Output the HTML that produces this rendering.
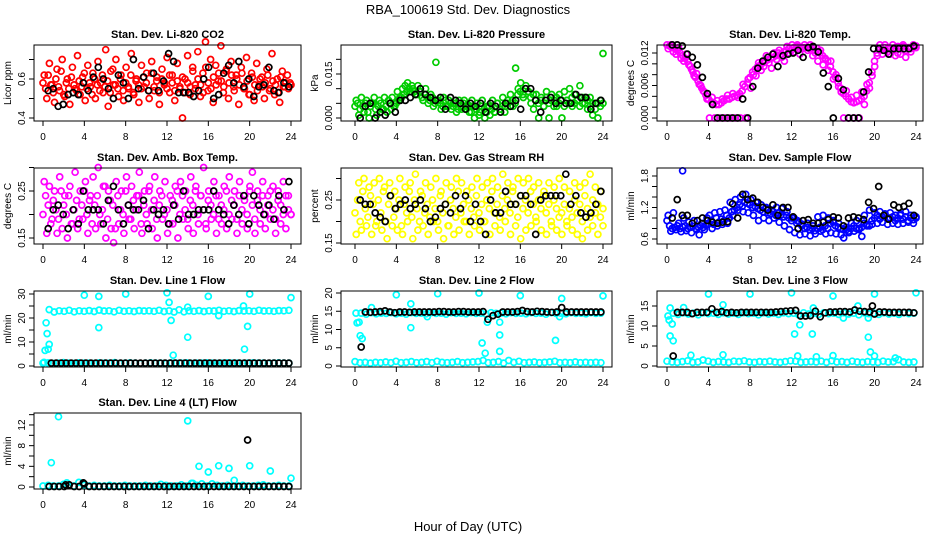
<!DOCTYPE html>
<html><head><meta charset="utf-8"><style>
html,body{margin:0;padding:0;background:#fff;}
svg{display:block;font-family:"Liberation Sans",sans-serif;}
</style></head><body>
<svg id="c" width="936" height="540" viewBox="0 0 936 540">
<text x="468" y="14" text-anchor="middle" font-size="13">RBA_100619  Std. Dev. Diagnostics</text>
<text x="468" y="531" text-anchor="middle" font-size="13">Hour of Day (UTC)</text>
</svg>
<script>
// ---------- data ----------
const hourTicks = [0,4,8,12,16,20,24];

const co2A = [0.58,0.55,0.62,0.57,0.53,0.60,0.56,0.64,0.52,0.58,0.55,0.61,0.57,0.54,0.59,0.56,0.63,0.55,0.58,0.52,0.60,0.57,0.54,0.62,0.56,0.59,0.53,0.65,0.57,0.55,0.60,0.54,0.58,0.56,0.62,0.53,0.59,0.57,0.55,0.61,0.58,0.54,0.63,0.56,0.59,0.53,0.60,0.57,0.55,0.62,0.58,0.54,0.59,0.56,0.61,0.53,0.58,0.56,0.64,0.55,0.60,0.57,0.53,0.66,0.58,0.55,0.61,0.57,0.63,0.59,0.56,0.65,0.58,0.62,0.54,0.60,0.57,0.63,0.55,0.59,0.52,0.61,0.57,0.54,0.60,0.56,0.58,0.62,0.55,0.59,0.57,0.53,0.61,0.56,0.58,0.55,0.57];
const co2B = [0.62,0.50,0.68,0.57,0.48,0.65,0.54,0.70,0.51,0.60,0.47,0.66,0.55,0.72,0.52,0.61,0.49,0.67,0.56,0.63,0.50,0.69,0.58,0.53,0.75,0.46,0.64,0.57,0.70,0.51,0.62,0.49,0.66,0.55,0.73,0.52,0.60,0.48,0.67,0.56,0.63,0.50,0.69,0.54,0.61,0.47,0.65,0.58,0.71,0.53,0.62,0.49,0.68,0.55,0.40,0.60,0.72,0.52,0.66,0.57,0.74,0.51,0.63,0.79,0.54,0.70,0.48,0.67,0.59,0.77,0.53,0.64,0.50,0.69,0.56,0.62,0.47,0.66,0.55,0.71,0.52,0.63,0.49,0.68,0.57,0.61,0.50,0.65,0.54,0.73,0.52,0.60,0.48,0.64,0.56,0.62,0.58];
const co2K = [0.54,0.55,0.46,0.47,0.52,0.53,0.52,0.58,0.54,0.61,0.66,0.60,0.55,0.50,0.62,0.58,0.50,0.70,0.55,0.61,0.54,0.63,0.54,0.59,0.73,0.69,0.53,0.53,0.53,0.51,0.54,0.60,0.66,0.50,0.52,0.63,0.67,0.58,0.69,0.56,0.60,0.51,0.56,0.57,0.66,0.54,0.53,0.58,0.56];

const presA = [0.004,0.005,0.003,0.004,0.005,0.002,0.004,0.005,0.003,0.004,0.005,0.003,0.004,0.006,0.003,0.004,0.005,0.006,0.007,0.008,0.009,0.010,0.011,0.009,0.008,0.009,0.007,0.008,0.007,0.006,0.007,0.005,0.006,0.005,0.004,0.006,0.004,0.005,0.004,0.005,0.003,0.004,0.005,0.003,0.004,0.002,0.004,0.003,0.001,0.004,0.003,0.002,0.004,0.003,0.002,0.005,0.003,0.004,0.002,0.005,0.004,0.006,0.005,0.008,0.009,0.008,0.010,0.009,0.007,0.008,0.006,0.005,0.006,0.004,0.007,0.005,0.006,0.004,0.007,0.005,0.006,0.004,0.006,0.005,0.007,0.005,0.006,0.004,0.007,0.005,0.006,0.004,0.005,0.003,0.005,0.004,0.005];
const presB = [0.006,0.001,0.007,0.002,0.006,0.000,0.005,0.007,0.001,0.006,0.003,0.007,0.002,0.005,0.007,0.004,0.009,0.007,0.010,0.011,0.012,0.009,0.010,0.008,0.011,0.009,0.006,0.010,0.005,0.008,0.004,0.019,0.006,0.003,0.007,0.004,0.006,0.003,0.005,0.002,0.006,0.003,0.006,0.004,0.002,0.006,0.000,0.005,0.002,0.006,0.000,0.004,0.001,0.006,0.002,0.005,0.003,0.007,0.004,0.006,0.008,0.004,0.017,0.010,0.012,0.007,0.011,0.009,0.005,0.003,0.008,0.000,0.007,0.004,0.009,0.000,0.008,0.006,0.004,0.008,0.000,0.009,0.006,0.010,0.004,0.008,0.006,0.011,0.005,0.007,0.003,0.007,0.001,0.005,0.000,0.006,0.022];
const presK = [0.000,0.004,0.005,0.000,0.002,0.001,0.005,0.002,0.006,0.006,0.007,0.008,0.010,0.008,0.007,0.006,0.007,0.003,0.007,0.006,0.005,0.003,0.005,0.004,0.005,0.002,0.005,0.004,0.002,0.005,0.004,0.006,0.003,0.010,0.010,0.006,0.002,0.006,0.007,0.005,0.006,0.005,0.005,0.008,0.007,0.007,0.003,0.005,0.006];

const tempA = [0.0135,0.0133,0.013,0.0128,0.0125,0.012,0.0115,0.011,0.0105,0.0095,0.0085,0.0075,0.0068,0.006,0.005,0.0042,0.0035,0.003,0.0028,0.0025,0.0025,0.0028,0.0032,0.0035,0.0035,0.0038,0.004,0.0042,0.0045,0.005,0.0058,0.0065,0.0075,0.0085,0.009,0.0095,0.0098,0.0102,0.0105,0.0108,0.011,0.0112,0.0115,0.012,0.0118,0.0122,0.0125,0.0128,0.0125,0.013,0.0132,0.0128,0.013,0.0135,0.013,0.0128,0.0132,0.0125,0.0128,0.012,0.0115,0.011,0.0105,0.0095,0.0085,0.0075,0.0065,0.0055,0.0045,0.004,0.0035,0.003,0.0028,0.003,0.0032,0.0035,0.004,0.005,0.0065,0.0085,0.0105,0.012,0.0128,0.0125,0.013,0.0122,0.0128,0.0125,0.013,0.012,0.0128,0.0132,0.0125,0.013,0.0128,0.0132,0.0133];
const tempB = [0.0128,0.0135,0.0122,0.0118,0.013,0.011,0.0105,0.0118,0.0098,0.009,0.0078,0.0082,0.0062,0.0055,0.0048,0.0035,0.0,0.0038,0.0,0.0032,0.0,0.0035,0.0,0.0042,0.0,0.0045,0.0,0.0038,0.0,0.0062,0.0,0.0072,0.0055,0.008,0.0078,0.0102,0.0088,0.0095,0.0115,0.0102,0.0092,0.012,0.0108,0.0125,0.0112,0.0105,0.0132,0.012,0.0135,0.0122,0.0135,0.0118,0.0128,0.013,0.0125,0.0135,0.0115,0.012,0.0105,0.0125,0.0098,0.0108,0.0088,0.0105,0.0072,0.008,0.0058,0.0048,0.0,0.005,0.0,0.0038,0.0,0.0042,0.0,0.0048,0.0025,0.0062,0.0055,0.0078,0.0095,0.0115,0.0135,0.0118,0.0135,0.0128,0.0118,0.0135,0.0115,0.0132,0.0118,0.0135,0.0112,0.0128,0.0122,0.0135,0.013];
const tempK = [0.0135,0.0135,0.0133,0.0118,0.0112,0.0098,0.0075,0.0045,0.0025,0.0,0.0,0.0,0.0,0.0,0.0035,0.0,0.0058,0.0092,0.0105,0.0112,0.0118,0.0095,0.0115,0.0118,0.012,0.0125,0.0112,0.013,0.0132,0.0122,0.0083,0.0058,0.0,0.0073,0.0052,0.0,0.0,0.0,0.0048,0.0085,0.0128,0.0128,0.0125,0.0118,0.0128,0.0128,0.0128,0.0128,0.0133];

const ambA = [0.20,0.24,0.22,0.18,0.23,0.21,0.19,0.25,0.22,0.20,0.24,0.18,0.21,0.23,0.19,0.22,0.25,0.20,0.23,0.18,0.22,0.24,0.20,0.21,0.26,0.19,0.23,0.22,0.17,0.24,0.21,0.20,0.25,0.22,0.19,0.23,0.21,0.24,0.18,0.22,0.20,0.25,0.21,0.23,0.19,0.22,0.24,0.20,0.21,0.18,0.23,0.22,0.25,0.20,0.24,0.21,0.19,0.23,0.22,0.25,0.20,0.24,0.21,0.18,0.23,0.22,0.20,0.24,0.19,0.22,0.21,0.25,0.20,0.23,0.22,0.19,0.24,0.21,0.23,0.20,0.25,0.22,0.19,0.23,0.21,0.24,0.20,0.22,0.25,0.21,0.19,0.23,0.22,0.20,0.24,0.21,0.20];
const ambB = [0.27,0.16,0.26,0.19,0.25,0.16,0.28,0.17,0.24,0.15,0.26,0.18,0.29,0.17,0.25,0.19,0.27,0.16,0.24,0.28,0.17,0.30,0.18,0.26,0.15,0.25,0.17,0.14,0.27,0.18,0.25,0.16,0.28,0.19,0.26,0.17,0.24,0.29,0.16,0.25,0.18,0.26,0.17,0.28,0.15,0.25,0.19,0.27,0.16,0.24,0.18,0.26,0.15,0.27,0.19,0.25,0.17,0.28,0.16,0.26,0.18,0.24,0.30,0.17,0.25,0.19,0.27,0.16,0.24,0.18,0.26,0.17,0.28,0.19,0.25,0.16,0.27,0.18,0.24,0.17,0.26,0.29,0.16,0.25,0.18,0.27,0.17,0.24,0.19,0.26,0.16,0.25,0.18,0.27,0.17,0.24,0.20];
const ambK = [0.17,0.21,0.22,0.20,0.17,0.21,0.18,0.25,0.21,0.21,0.21,0.18,0.23,0.26,0.21,0.18,0.22,0.21,0.21,0.23,0.17,0.21,0.20,0.21,0.18,0.22,0.19,0.25,0.20,0.20,0.21,0.21,0.21,0.25,0.21,0.20,0.18,0.22,0.20,0.24,0.18,0.24,0.22,0.20,0.22,0.19,0.24,0.21,0.27];

const rhA = [0.22,0.25,0.20,0.27,0.23,0.21,0.26,0.24,0.19,0.25,0.22,0.27,0.20,0.24,0.26,0.21,0.23,0.25,0.19,0.24,0.22,0.27,0.21,0.25,0.23,0.20,0.26,0.22,0.24,0.21,0.25,0.23,0.20,0.26,0.22,0.24,0.19,0.25,0.23,0.21,0.27,0.22,0.24,0.20,0.25,0.23,0.21,0.26,0.22,0.24,0.20,0.25,0.23,0.27,0.22,0.24,0.21,0.26,0.23,0.25,0.22,0.27,0.24,0.21,0.26,0.23,0.25,0.22,0.27,0.24,0.21,0.25,0.23,0.26,0.22,0.24,0.20,0.25,0.23,0.21,0.22,0.24,0.20,0.23,0.21,0.25,0.22,0.24,0.20,0.26,0.23,0.21,0.25,0.22,0.24,0.21,0.23];
const rhB = [0.17,0.29,0.18,0.30,0.19,0.28,0.17,0.29,0.20,0.30,0.18,0.28,0.16,0.29,0.19,0.27,0.18,0.30,0.17,0.28,0.20,0.29,0.16,0.31,0.18,0.27,0.19,0.29,0.17,0.28,0.20,0.30,0.18,0.27,0.16,0.29,0.19,0.28,0.17,0.30,0.18,0.29,0.20,0.27,0.17,0.28,0.19,0.30,0.18,0.28,0.20,0.29,0.17,0.30,0.19,0.28,0.18,0.31,0.20,0.29,0.17,0.28,0.19,0.30,0.16,0.29,0.18,0.30,0.19,0.28,0.20,0.29,0.18,0.27,0.17,0.29,0.19,0.28,0.18,0.30,0.17,0.28,0.19,0.27,0.18,0.29,0.17,0.28,0.16,0.29,0.18,0.31,0.19,0.28,0.17,0.27,0.19];
const rhK = [0.25,0.24,0.24,0.22,0.21,0.20,0.26,0.23,0.24,0.25,0.23,0.24,0.25,0.23,0.20,0.21,0.23,0.24,0.22,0.26,0.23,0.26,0.20,0.24,0.20,0.17,0.25,0.22,0.22,0.27,0.24,0.24,0.26,0.26,0.24,0.17,0.25,0.26,0.26,0.26,0.26,0.31,0.24,0.26,0.22,0.21,0.22,0.24,0.27];

const sfA = [0.95,0.85,0.8,0.82,0.85,0.8,0.83,0.85,0.8,0.82,0.84,0.8,0.83,0.85,0.82,0.86,0.9,0.95,0.88,1.0,0.92,0.98,0.95,1.05,1.0,1.12,1.15,1.2,1.25,1.22,1.3,1.28,1.25,1.2,1.22,1.18,1.15,1.12,1.18,1.1,1.08,1.12,1.05,1.1,1.06,1.02,1.05,1.0,0.95,1.0,0.9,0.92,0.85,0.8,0.82,0.78,0.8,0.76,0.8,0.82,0.78,0.85,0.8,0.9,0.92,0.85,0.82,0.8,0.78,0.82,0.75,0.8,0.85,0.8,0.78,0.82,0.9,0.88,0.85,0.95,1.0,1.05,0.98,1.02,1.05,0.98,1.0,1.02,0.95,1.0,1.05,0.98,1.02,0.95,1.0,0.97,1.0];
const sfB = [1.05,0.75,1.1,0.78,0.9,0.74,1.0,0.76,0.92,0.72,0.95,0.78,0.68,0.9,0.78,1.0,1.05,0.8,1.1,0.85,1.12,0.88,1.15,0.9,1.3,1.05,1.35,1.15,1.4,1.12,1.45,1.1,1.35,1.05,1.3,0.95,1.25,1.0,1.2,0.95,1.15,1.0,1.2,0.92,1.18,0.85,1.12,0.78,1.0,0.72,0.95,0.68,0.88,0.7,0.9,0.66,0.85,0.7,1.02,0.75,1.05,0.7,1.0,0.72,0.95,0.7,0.9,0.68,0.62,0.78,0.72,0.9,0.75,0.95,0.8,0.65,1.05,0.85,1.15,0.88,1.1,0.9,1.12,0.92,1.08,0.88,1.1,0.9,1.05,0.88,1.08,0.9,1.12,0.92,1.05,0.9,1.02];
const sfK = [1.0,1.35,1.05,1.05,0.9,0.95,1.0,0.95,0.92,0.9,0.92,0.93,1.27,1.0,1.45,1.35,1.38,1.3,1.2,1.15,1.25,1.05,1.2,1.2,1.02,0.8,0.95,0.97,0.9,0.9,0.92,0.97,1.02,1.0,0.85,1.0,1.02,1.0,0.97,1.3,1.18,1.6,1.05,0.98,1.25,1.2,1.22,1.28,1.05];
const sfOutHours = [1.5];
const sfOutValues = [1.9];

const l1High = [23.5,22.5,23,22.8,23.2,22.6,23,22.8,23.1,22.7,23.3,22.9,23,22.6,23.2,22.8,23,22.7,23.1,22.9,23,22.8,23.2,22.7,23,22.5,23.4,22.6,23,22.8,23.1,22.7,23,22.9,23.2,22.8,23,22.7,23.1,22.9,23,22.8,23.2,22.9,23,22.8,23.1,23,23.2];
const l1Low = [1.2,1.3,1.1,1.2,1.4,1.2,1.1,1.3,1.2,1.2,1.1,1.3,1.2,1.2,1.4,1.1,1.2,1.3,1.2,1.1,1.2,1.3,1.2,1.2,1.1,1.3,1.2,1.2,1.3,1.1,1.2,1.2,1.3,1.2,1.1,1.2,1.3,1.2,1.2,1.1,1.2,1.3,1.2,1.2,1.1,1.2,1.3,1.2,1.2];
const l1K = [1.2,1.2,1.2,1.2,1.2,1.2,1.2,1.2,1.2,1.2,1.2,1.2,1.2,1.2,1.2,1.2,1.2,1.2,1.2,1.2,1.2,1.2,1.2,1.2,1.2,1.2,1.2,1.2,1.2,1.2,1.2,1.2,1.2,1.2,1.2,1.2,1.2,1.2,1.2,1.2,1.2,1.2,1.2,1.2,1.2,1.2,1.2,1.2,1.2];
const l1OutHours = [0.1,0.2,0.3,0.4,0.5,0.6,4,5.4,5.4,8,12,12.2,12.4,12.6,14,14,16,17,19.4,19.5,19.8,20,24];
const l1OutValues = [1.5,6.5,18,13.5,7,9,29.5,29,16,30,30.5,26.5,19,4.5,12,24.5,29,21,25,7,16.5,30,28.5];

const l2High = [14.5,14.2,14.6,14.3,14.5,14.4,14.6,14.3,14.5,14.2,14.6,14.4,14.5,14.3,14.6,14.4,14.5,14.2,14.6,14.4,14.5,14.3,14.6,14.4,14.5,14.2,14.6,14.4,14.5,14.3,14.6,14.4,14.5,14.3,14.6,14.4,14.5,14.2,14.6,14.4,14.5,14.3,14.6,14.4,14.5,14.3,14.6,14.4,14.5];
const l2Low = [1.2,0.9,1.0,0.8,1.0,0.9,1.1,0.9,1.3,0.9,1.0,1.2,0.9,1.0,1.2,0.9,1.3,1.0,0.9,1.0,1.2,0.9,1.0,1.1,1.2,1.5,0.9,1.0,1.2,0.8,1.5,1.0,1.3,0.9,1.0,1.1,0.9,1.0,1.1,1.3,0.9,1.0,0.9,1.1,0.9,1.0,0.9,1.0,0.9];
const l2K = [14.8,14.7,14.8,14.9,15.1,14.8,14.6,14.8,14.8,14.7,14.8,14.8,14.8,14.8,14.8,14.9,14.9,14.8,14.8,14.9,14.9,14.8,14.8,14.8,14.9,12.8,13.8,14.2,14.8,14.8,14.8,14.9,15.2,14.9,14.8,15.0,14.9,14.8,14.7,14.8,16.0,14.8,14.8,14.8,14.8,14.8,14.8,14.8,14.8];
const l2OutHours = [0.1,0.2,0.4,0.5,0.7,1.6,4,5.4,5.4,7,8,12,12.3,12.6,12.8,14,14,14,16,19.4,19.8,20,24];
const l2OutValues = [14.5,11.8,12,8.3,7.5,16,19.5,17,10.5,13.5,19.8,20,6.3,3.5,12,4,8.5,12,19.3,7,13.5,18.5,19.2];
const l2KOutHours = [0.6];
const l2KOutValues = [5.2];

const l3High = [13.2,12.9,13.3,13.0,13.2,12.8,13.3,13.1,13.2,12.9,13.3,13.0,13.2,12.9,13.3,13.1,13.2,12.8,13.3,13.0,13.2,12.9,13.3,13.1,13.2,12.8,13.3,13.0,13.2,12.9,13.3,13.1,13.2,12.9,13.3,13.0,13.2,12.8,13.3,13.1,13.2,12.9,13.3,13.0,13.2,12.9,13.3,13.1,13.2];
const l3Low = [1.2,1.0,0.9,1.1,1.3,0.9,1.0,1.5,1.2,0.9,1.1,1.0,0.9,1.2,1.1,1.3,1.0,0.9,1.1,1.0,1.2,1.0,0.9,1.1,1.3,1.2,0.9,1.0,1.1,1.0,1.2,0.9,1.3,1.0,1.1,0.9,1.2,1.0,0.9,1.1,1.0,0.9,1.2,1.0,1.1,1.6,1.0,0.9,1.0];
const l3K = [13.4,13.4,13.4,13.1,13.4,13.4,13.4,14.3,13.4,13.6,13.3,13.4,13.3,13.4,13.4,13.4,13.4,13.4,13.4,13.4,13.5,13.6,13.7,13.8,13.9,12.5,12.5,12.6,13.7,12.3,13.3,13.5,13.5,13.6,13.6,13.5,14.0,13.7,13.6,13.5,13.0,13.5,13.5,13.4,13.4,13.4,13.4,13.4,13.3];
const l3OutHours = [0.1,0.2,0.3,0.3,0.5,0.6,1.6,2.3,4,5.4,5.4,8,12,12.3,12.6,12.8,14,14.1,14.4,16,16,17,18.4,19.4,19.4,19.6,20,20,22,24];
const l3OutValues = [12.5,11.5,14.5,7.5,10.5,6.3,14.6,2.7,18,15.3,2.8,18,18.3,8,2.5,10.3,8,14.5,2.3,17.5,2.6,12,15,12,7.2,3.5,18,2.5,2,18.3];
const l3KOutHours = [0.6,19.8];
const l3KOutValues = [2.5,15];

const l4Low = [0.2,0.3,0.2,0.2,0.5,0.3,0.2,0.9,0.3,0.2,0.3,0.2,0.2,0.3,0.2,0.2,0.3,0.2,0.2,0.2,0.3,0.2,0.2,0.5,0.3,0.2,0.2,0.4,0.2,0.7,0.3,0.6,0.2,0.6,0.3,0.2,0.3,0.2,0.2,0.3,0.2,0.2,0.3,0.4,0.2,0.2,0.3,0.2,0.2];
const l4K = [0.1,0.1,0.1,0.1,0.4,0.1,0.1,0.6,0.1,0.1,0.1,0.1,0.1,0.1,0.1,0.1,0.1,0.1,0.1,0.1,0.1,0.1,0.1,0.1,0.1,0.1,0.1,0.1,0.1,0.1,0.1,0.1,0.1,0.1,0.1,0.1,0.1,0.1,0.1,0.1,0.1,0.1,0.1,0.1,0.1,0.1,0.1,0.1,0.1];
const l4OutHours = [0.8,1.5,2.3,14,14.5,15.1,16,17,18,18.5,20,22,24];
const l4OutValues = [4.7,13.6,0.8,12.8,0.7,4,2.9,4.1,3.6,1.3,4.1,3.1,1.7];
const l4KOutHours = [19.8,3.9,2.2];
const l4KOutValues = [9.1,0.8,0.4];

// ---------- drawing ----------
const NS = 'http://www.w3.org/2000/svg';
const svg = document.getElementById('c');
function mk(tag, attrs, parent){
  const e = document.createElementNS(NS, tag);
  for (const k in attrs) e.setAttribute(k, attrs[k]);
  (parent||svg).appendChild(e);
  return e;
}
const colX = [{l:34,r:301,x0:43,x24:291},{l:341,r:612,x0:355,x24:603},{l:657,r:923,x0:667,x24:916}];
const rowY = [{t:45,b:121},{t:168,b:244},{t:291,b:367},{t:413,b:489}];

function panel(cfg){
  const c = colX[cfg.col], r = rowY[cfg.row];
  const g = mk('g', {});
  
  
  const xs = h => c.x0 + (c.x24 - c.x0) * h / 24;
  const ys = v => cfg.py0 + (cfg.py1 - cfg.py0) * (v - cfg.v0) / (cfg.v1 - cfg.v0);
  const pts = mk('g', {fill:'none','stroke-width':1.7}, g);
  
  
  function dot(h, v, col){
    const y = ys(v);
    if (y < r.t - 4 || y > r.b + 4) return;
    const e = mk('circle', {cx:xs(h).toFixed(1), cy:y.toFixed(1), r:3, stroke:col}, pts);
    
    
  }
  for (const s of cfg.series){
    if (s.vals){
      const n = s.vals.length;
      for (let i = 0; i < n; i++) dot(s.h0 + (s.h1 - s.h0) * i / (n - 1), s.vals[i], s.col);
    } else {
      for (let i = 0; i < s.hours.length; i++) dot(s.hours[i], s.values[i], s.col);
    }
  }
  const box = mk('rect', {x:c.l, y:r.t, width:c.r - c.l, height:r.b - r.t, fill:'none', stroke:'#000','stroke-width':1}, g);
  
  
  const t = mk('text', {x:(c.l + c.r) / 2, y:r.t - 7, 'text-anchor':'middle','font-size':11,'font-weight':'bold'}, g);
  t.textContent = cfg.title;
  
  
  for (const h of hourTicks){
    mk('line', {x1:xs(h), x2:xs(h), y1:r.b, y2:r.b + 5, stroke:'#000'}, g);
    const tl = mk('text', {x:xs(h), y:r.b + 19, 'text-anchor':'middle','font-size':10}, g);
    tl.textContent = h;
    
    
  }
  for (const v of cfg.ticks) mk('line', {x1:c.l - 5, x2:c.l, y1:ys(v), y2:ys(v), stroke:'#000'}, g);
  for (let i = 0; i < cfg.labels.length; i++){
    const v = cfg.labelVals[i];
    const x = c.l - 9, y = ys(v);
    const tl = mk('text', {x:x, y:y, 'text-anchor':'middle','font-size':10, transform:`rotate(-90 ${x} ${y})`}, g);
    tl.textContent = cfg.labels[i];
    
    
  }
  const yx = c.l - 23, yy = (r.t + r.b) / 2;
  const yt = mk('text', {x:yx, y:yy, 'text-anchor':'middle','font-size':10, transform:`rotate(-90 ${yx} ${yy})`}, g);
  yt.textContent = cfg.ylab;
  
  
}

const RED='#ff0000', GRN='#00cc00', MAG='#ff00ff', YEL='#ffff00', BLU='#0000ff', CY='#00ffff', BK='#000000';

panel({name:'co2-panel', col:0,row:0, title:'Stan. Dev. Li-820 CO2', ylab:'Licor ppm', v0:0.4,v1:0.6,py0:118,py1:79,
  ticks:[0.4,0.5,0.6,0.7], labelVals:[0.4,0.6], labels:['0.4','0.6'],
  series:[{vals:co2A,h0:0,h1:24,col:RED},{vals:co2B,h0:0.12,h1:23.9,col:RED},{vals:co2K,h0:0.5,h1:23.8,col:BK}]});
panel({name:'pressure-panel', col:1,row:0, title:'Stan. Dev. Li-820 Pressure', ylab:'kPa', v0:0,v1:0.015,py0:118,py1:74,
  ticks:[0,0.005,0.01,0.015,0.02], labelVals:[0,0.015], labels:['0.000','0.015'],
  series:[{vals:presA,h0:0,h1:24,col:GRN},{vals:presB,h0:0.12,h1:24,col:GRN},{vals:presK,h0:0.5,h1:23.8,col:BK}]});
panel({name:'temp-panel', col:2,row:0, title:'Stan. Dev. Li-820 Temp.', ylab:'degrees C', v0:0,v1:0.012,py0:118,py1:53,
  ticks:[0,0.002,0.004,0.006,0.008,0.01,0.012], labelVals:[0,0.006,0.012], labels:['0.000','0.006','0.012'],
  series:[{vals:tempA,h0:0,h1:24,col:MAG},{vals:tempB,h0:0.12,h1:24,col:MAG},{vals:tempK,h0:0.5,h1:23.8,col:BK}]});
panel({name:'amb-box-temp-panel', col:0,row:1, title:'Stan. Dev. Amb. Box Temp.', ylab:'degrees C', v0:0.15,v1:0.25,py0:238,py1:191,
  ticks:[0.15,0.2,0.25,0.3], labelVals:[0.15,0.25], labels:['0.15','0.25'],
  series:[{vals:ambA,h0:0,h1:24,col:MAG},{vals:ambB,h0:0.12,h1:24,col:MAG},{vals:ambK,h0:0.5,h1:23.8,col:BK}]});
panel({name:'gas-rh-panel', col:1,row:1, title:'Stan. Dev. Gas Stream RH', ylab:'percent', v0:0.15,v1:0.25,py0:243,py1:200,
  ticks:[0.15,0.2,0.25,0.3], labelVals:[0.15,0.25], labels:['0.15','0.25'],
  series:[{vals:rhA,h0:0,h1:24,col:YEL},{vals:rhB,h0:0.12,h1:24,col:YEL},{vals:rhK,h0:0.5,h1:23.8,col:BK}]});
panel({name:'sample-flow-panel', col:2,row:1, title:'Stan. Dev. Sample Flow', ylab:'ml/min', v0:0.6,v1:1.8,py0:239,py1:176,
  ticks:[0.6,0.8,1.0,1.2,1.4,1.6,1.8], labelVals:[0.6,1.2,1.8], labels:['0.6','1.2','1.8'],
  series:[{vals:sfA,h0:0,h1:24,col:BLU},{vals:sfB,h0:0.12,h1:24,col:BLU},{hours:sfOutHours,values:sfOutValues,col:BLU},{vals:sfK,h0:0.5,h1:23.8,col:BK}]});
panel({name:'line1-flow-panel', col:0,row:2, title:'Stan. Dev. Line 1 Flow', ylab:'ml/min', v0:0,v1:30,py0:366,py1:294,
  ticks:[0,5,10,15,20,25,30], labelVals:[0,10,20,30], labels:['0','10','20','30'],
  series:[{vals:l1High,h0:0.6,h1:23.8,col:CY},{vals:l1Low,h0:0,h1:23.8,col:CY},{hours:l1OutHours,values:l1OutValues,col:CY},{vals:l1K,h0:0.8,h1:23.8,col:BK}]});
panel({name:'line2-flow-panel', col:1,row:2, title:'Stan. Dev. Line 2 Flow', ylab:'ml/min', v0:0,v1:20,py0:366,py1:293,
  ticks:[0,5,10,15,20], labelVals:[0,5,10,15,20], labels:['0','5','10','15','20'],
  series:[{vals:l2High,h0:0.6,h1:23.8,col:CY},{vals:l2Low,h0:0,h1:23.8,col:CY},{hours:l2OutHours,values:l2OutValues,col:CY},{vals:l2K,h0:1,h1:23.8,col:BK},{hours:l2KOutHours,values:l2KOutValues,col:BK}]});
panel({name:'line3-flow-panel', col:2,row:2, title:'Stan. Dev. Line 3 Flow', ylab:'ml/min', v0:0,v1:15,py0:366,py1:306,
  ticks:[0,5,10,15], labelVals:[0,5,10,15], labels:['0','5','10','15'],
  series:[{vals:l3High,h0:0.6,h1:23.8,col:CY},{vals:l3Low,h0:0,h1:23.8,col:CY},{hours:l3OutHours,values:l3OutValues,col:CY},{vals:l3K,h0:1,h1:23.8,col:BK},{hours:l3KOutHours,values:l3KOutValues,col:BK}]});
panel({name:'line4-flow-panel', col:0,row:3, title:'Stan. Dev. Line 4 (LT) Flow', ylab:'ml/min', v0:0,v1:12,py0:487,py1:425,
  ticks:[0,2,4,6,8,10,12,14], labelVals:[0,4,8,12], labels:['0','4','8','12'],
  series:[{vals:l4Low,h0:0,h1:23.8,col:CY},{hours:l4OutHours,values:l4OutValues,col:CY},{vals:l4K,h0:0.6,h1:23.8,col:BK},{hours:l4KOutHours,values:l4KOutValues,col:BK}]});
</script>
</body></html>
